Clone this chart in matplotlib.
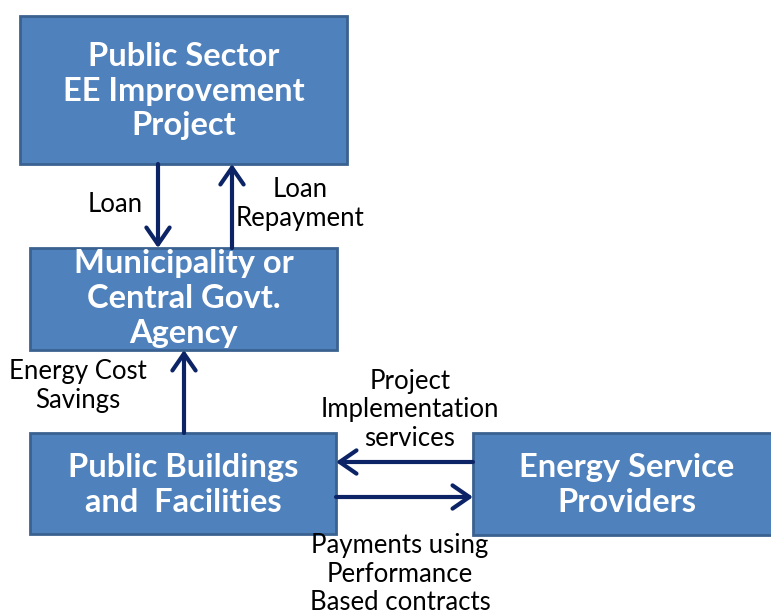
import matplotlib
matplotlib.use("Agg")
import matplotlib.pyplot as plt
from matplotlib.patches import Rectangle, FancyArrowPatch

# ---- content ----
box_labels = [
    "Public Sector\nEE Improvement\nProject",
    "Municipality or\nCentral Govt.\nAgency",
    "Public Buildings\nand  Facilities",
    "Energy Service\nProviders",
]
flow_labels = [
    "Loan",
    "Loan\nRepayment",
    "Energy Cost\nSavings",
    "Project\nImplementation\nservices",
    "Payments using\nPerformance\nBased contracts",
]

# ---- layout (pixel coordinates, y downwards) ----
W, H = 771, 616
boxes = [  # x0, y0, x1, y1
    (20, 16, 347, 164),
    (30, 248, 337, 350),
    (30, 433, 336, 534),
    (473, 433, 772, 535),
]
arrows = [  # start -> end
    ((158, 164), (158, 248)),
    ((232, 248), (232, 164)),
    ((184, 433), (184, 350)),
    ((473, 462), (336, 462)),
    ((336, 497), (473, 497)),
]
label_pos = [(115, 204), (300, 204), (78, 386), (410, 410), (400, 574)]
box_text_y = [91, 299, 485, 485]

fill = "#4F81BD"
edge = "#3A6291"
arrow_col = "#0C2466"

plt.rcParams['font.family'] = ['Lato', 'DejaVu Sans']
fig = plt.figure(figsize=(W / 100, H / 100), dpi=100)
ax = fig.add_axes([0, 0, 1, 1])
ax.set_xlim(0, W)
ax.set_ylim(H, 0)
ax.axis("off")

for (x0, y0, x1, y1), lab, ty in zip(boxes, box_labels, box_text_y):
    cx = (x0 + x1) / 2 if x1 < W else 627
    ax.add_patch(Rectangle((x0, y0), x1 - x0, y1 - y0, facecolor=fill,
                           edgecolor=edge, linewidth=2, zorder=1))
    ax.text(cx, ty, lab, ha="center", va="center", color="white",
            fontsize=23.5, fontweight="bold", linespacing=1.25, zorder=3)

for (s, e) in arrows:
    ax.add_patch(FancyArrowPatch(s, e, arrowstyle="->,head_length=5.5,head_width=3.8",
                                 color=arrow_col, linewidth=3, shrinkA=0,
                                 shrinkB=0, mutation_scale=2.2, zorder=4))

for (x, y), lab in zip(label_pos, flow_labels):
    ax.text(x, y, lab, ha="center", va="center", color="black",
            fontsize=18.5, linespacing=1.2)

fig.savefig("out.png", dpi=100)
